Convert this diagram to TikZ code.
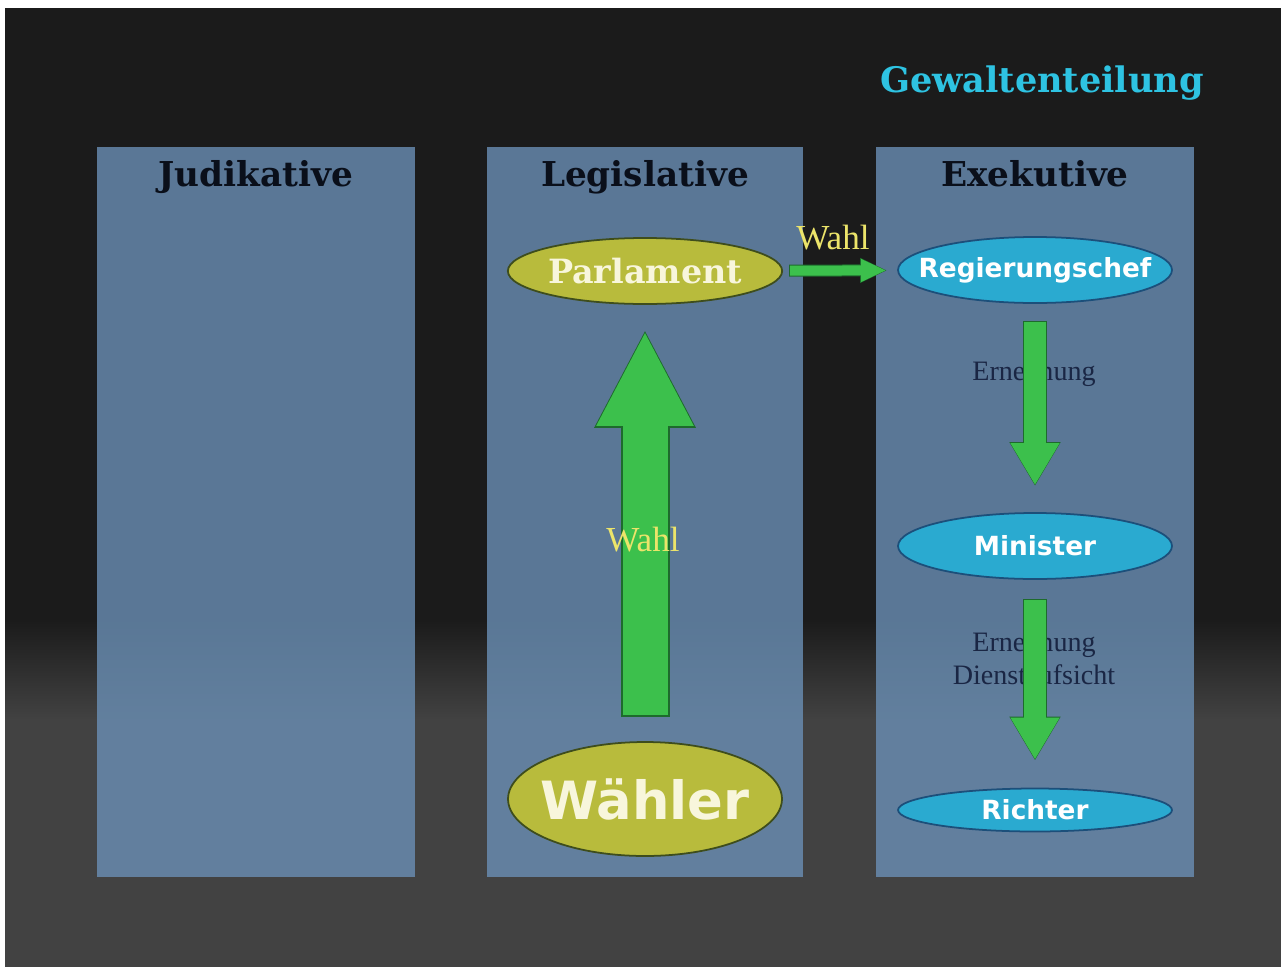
\documentclass[tikz,border=0pt]{standalone}
\usepackage{fontspec}
\newfontfamily\headfont{DejaVu Serif}
\newfontfamily\labelfont{DejaVu Sans}
\newfontfamily\notefont{Liberation Serif}
\usetikzlibrary{shapes.geometric,arrows.meta}
\definecolor{bgdark}{HTML}{1B1B1B}
\definecolor{bggray}{HTML}{424242}
\definecolor{panelblue}{HTML}{6A8FB5}
\definecolor{headink}{HTML}{0A0F1A}
\definecolor{olive}{HTML}{B8BB3C}
\definecolor{olivedark}{HTML}{3E4D1C}
\definecolor{cream}{HTML}{F8F6DC}
\definecolor{skyblue}{HTML}{2AAAD0}
\definecolor{bluedark}{HTML}{1C4F7A}
\definecolor{arrowgreen}{HTML}{3CC04C}
\definecolor{arrowdark}{HTML}{1D6B2C}
\definecolor{wahlyellow}{HTML}{ECE46A}
\definecolor{noteink}{HTML}{1A2644}
\definecolor{titlecyan}{HTML}{2EC3E2}
\begin{document}
\begin{tikzpicture}[x=0.02cm,y=-0.02cm,
  panel/.style={fill=panelblue,fill opacity=0.8},
  head/.style={font=\headfont\bfseries\fontsize{19.5}{22}\selectfont,text=headink,anchor=base},
  yellowell/.style={ellipse,draw=olivedark,line width=1pt,fill=olive,inner sep=0pt,text=cream,minimum width=5.48cm},
  blueell/.style={ellipse,draw=bluedark,line width=1pt,fill=skyblue,inner sep=0pt,text=white,minimum width=5.48cm,font=\labelfont\bfseries\fontsize{15}{17}\selectfont},
  note/.style={font=\notefont\fontsize{16}{19}\selectfont,text=noteink,align=center},
  wahl/.style={font=\notefont\fontsize{20}{22}\selectfont,text=wahlyellow}]
\useasboundingbox (0,0) rectangle (1281,967);
\fill[white] (0,0) rectangle (1281,967);
\fill[bgdark] (5,8) rectangle (1281,967);
\shade[top color=bgdark,bottom color=bggray] (5,620) rectangle (1281,720);
\fill[bggray] (5,720) rectangle (1281,967);
% the three columns
\fill[panel] (97,147) rectangle (415,877);
\fill[panel] (487,147) rectangle (803,877);
\fill[panel] (876,147) rectangle (1194,877);
\node (title) at (1042,83) [font=\headfont\bfseries\fontsize{20}{24}\selectfont,text=titlecyan] {Gewaltenteilung};
\node (judikative) at (256,186) [head] {Judikative};
\node (legislative) at (645,186) [head] {Legislative};
\node (exekutive) at (1035,186) [head] {Exekutive};
% nodes
\node (parlament) at (645,271) [yellowell,minimum height=1.32cm,font=\headfont\bfseries\fontsize{19}{21}\selectfont] {Parlament};
\node (waehler) at (645,799) [yellowell,inner xsep=-0.2cm,minimum height=2.28cm,font=\labelfont\bfseries\fontsize{30}{32}\selectfont] {Wähler};
\node (regchef) at (1035,270) [blueell,inner xsep=-0.42cm,minimum height=1.32cm] {Regierungschef};
\node (minister) at (1035,546) [blueell,minimum height=1.32cm] {Minister};
\node (richter) at (1035,810) [blueell,minimum height=0.86cm] {Richter};
\node (ernennung) at (1034,374) [note] {Ernennung};
\node (aufsicht) at (1034,659) [note] {Ernennung\\Dienstaufsicht};
% arrows
\draw[arrowdark,line width=0.98cm,-{Triangle[length=1.98cm,width=1.88cm]},shorten <=0.48cm,shorten >=0.48cm] (waehler) -- (parlament);
\draw[arrowgreen,line width=0.9cm,-{Triangle[length=1.9cm,width=1.8cm]},shorten <=0.52cm,shorten >=0.52cm] (waehler) -- (parlament);
\draw[arrowdark,line width=0.24cm,-{Triangle[length=0.54cm,width=0.46cm]},shorten <=0.12cm,shorten >=0.2cm] (parlament) -- (regchef);
\draw[arrowgreen,line width=0.2cm,-{Triangle[length=0.5cm,width=0.42cm]},shorten <=0.14cm,shorten >=0.22cm] (parlament) -- (regchef);
\draw[arrowdark,line width=0.48cm,-{Triangle[length=0.88cm,width=0.96cm]},shorten <=0.34cm,shorten >=0.52cm] (regchef) -- (minister);
\draw[arrowgreen,line width=0.44cm,-{Triangle[length=0.84cm,width=0.92cm]},shorten <=0.36cm,shorten >=0.54cm] (regchef) -- (minister);
\draw[arrowdark,line width=0.48cm,-{Triangle[length=0.88cm,width=0.96cm]},shorten <=0.38cm,shorten >=0.54cm] (minister) -- (richter);
\draw[arrowgreen,line width=0.44cm,-{Triangle[length=0.84cm,width=0.92cm]},shorten <=0.4cm,shorten >=0.56cm] (minister) -- (richter);
\node (wahlup) at (643,540) [wahl] {Wahl};
\node (wahlright) at (833,238) [wahl] {Wahl};
\end{tikzpicture}
\end{document}
